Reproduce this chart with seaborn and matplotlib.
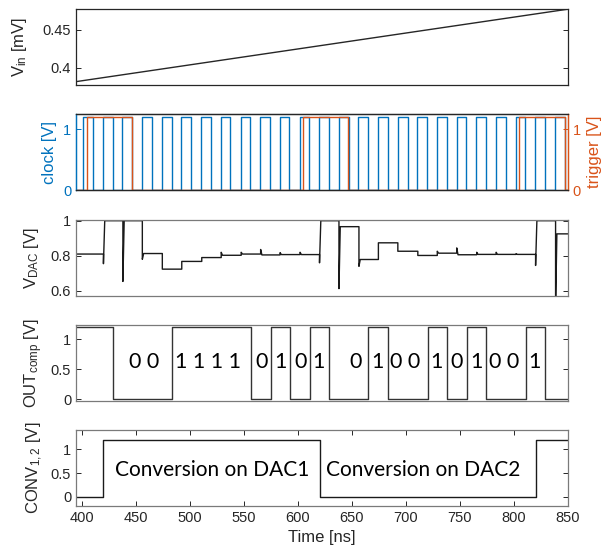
"""
SAR ADC timing diagram - five stacked panels sharing the time axis
"""

import matplotlib
matplotlib.use("Agg")
import matplotlib.pyplot as plt
import seaborn as sns
from matplotlib.ticker import FormatStrFormatter

sns.set_theme(style="white")
plt.rcParams['font.family'] = ['Liberation Sans', 'DejaVu Sans']
plt.rcParams['mathtext.fontset'] = 'custom'
plt.rcParams['mathtext.rm'] = 'Liberation Sans'
plt.rcParams['mathtext.it'] = 'Liberation Sans:italic'

# ---- values ----
t_lim = (394.6, 850)
time_ticks = [400, 450, 500, 550, 600, 650, 700, 750, 800, 850]

vin_t = [394.6, 850]
vin_mv = [0.382, 0.477]

clock_rise = [401.5, 419.5, 437.5, 456, 474, 492, 510.5, 528.5, 547, 565, 583, 601.5,
              619.5, 638, 656, 674, 692.5, 710.5, 729, 747, 765, 783.5, 801.5, 819.5, 838]
clock_width = 9.0
clock_high = 1.2

trigger_rise = [404.5, 605, 805]
trigger_fall = [446, 646.5, 847]
trigger_high = 1.2

dac_start = 0.81
dac_t = [420, 438, 456, 474.5, 492.5, 511, 529, 547.5, 565.5, 583.5, 602,
         620, 638, 656.5, 674.5, 692.5, 711, 729, 747, 765.5, 783.5, 802,
         820, 838.5]
dac_level = [1.0, 1.0, 0.813, 0.724, 0.768, 0.79, 0.803, 0.81, 0.805, 0.807, 0.807,
             1.0, 0.966, 0.779, 0.874, 0.826, 0.802, 0.815, 0.806, 0.808, 0.808, 0.808,
             1.0, 0.925]
dac_spike = [0.755, 0.654, 0.78, 0.724, 0.768, 0.79, 0.82, 0.82, 0.836, 0.818, 0.82,
             0.76, 0.613, 0.74, 0.874, 0.826, 0.802, 0.826, 0.845, 0.82, 0.82, 0.812,
             0.745, 0.5]

out_start = 1.2
out_t = [428.5, 483, 557, 575, 593, 611, 628.5, 665, 683, 720, 738, 756.5, 774, 811, 828.5]
out_level = [0, 1.2, 0, 1.2, 0, 1.2, 0, 1.2, 0, 1.2, 0, 1.2, 0, 1.2, 0]

conv_start = 0.0
conv_t = [420, 620, 820]
conv_level = [1.2, 0.0, 1.2]

bit_text = ['0 0', '1 1 1 1', '0', '1', '0', '1', '0', '1', '0 0', '1', '0', '1', '0 0', '1']
bit_t = [458, 517, 566, 584, 602.5, 619.5, 653, 674, 699, 728, 747, 765.5, 790.5, 819]

conv_text = ['Conversion on DAC1', 'Conversion on DAC2']
conv_text_t = [521, 716]

BLUE = '#0072BD'
ORANGE = '#D95319'
DARK = '#262626'
GRAY = '#7a7a7a'


def step_xy(edges, levels, start):
    """turn edge times + levels into a step trace"""
    x, y = [t_lim[0]], [start]
    prev = start
    for t, v in zip(edges, levels):
        x += [t, t]
        y += [prev, v]
        prev = v
    x.append(t_lim[1])
    y.append(prev)
    return x, y


def dac_xy():
    """step trace with the switching glitch at every edge"""
    x, y = [t_lim[0]], [dac_start]
    prev = dac_start
    for t, v, s in zip(dac_t, dac_level, dac_spike):
        x += [t, t, t + 1.2]
        y += [prev, s, v]
        prev = v
    x.append(t_lim[1])
    y.append(prev)
    return x, y


def line(ax, x, y, color, lw=1.0):
    sns.lineplot(x=x, y=y, ax=ax, estimator=None, sort=False, color=color, linewidth=lw)


def style_axis(ax, yticks, ylim, frame, bottom=False):
    ax.set_xlim(*t_lim)
    ax.set_ylim(*ylim)
    ax.set_yticks(yticks)
    ax.yaxis.set_major_formatter(FormatStrFormatter('%g'))
    for s in ax.spines.values():
        s.set_color(frame)
        s.set_linewidth(0.9)
        s.set_visible(True)
    ax.tick_params(axis='y', direction='in', length=3.5, left=True, right=True,
                   labelsize=10.5, colors=DARK, width=0.7)
    if bottom:
        ax.set_xticks(time_ticks)
        ax.tick_params(axis='x', direction='in', length=3.5, top=True, bottom=True,
                       labelsize=10.5, colors=DARK, width=0.7)
    else:
        ax.set_xticks([])
    ax.set_facecolor('white')


fig = plt.figure(figsize=(6.07, 5.53), dpi=100)
left, width = 76 / 607, 492 / 607
tops = [9, 114, 220, 325, 430]
axes = [fig.add_axes([left, 1 - (tp + 76) / 553, width, 76 / 553]) for tp in tops]
ax1, ax2, ax3, ax4, ax5 = axes

# panel 1: input ramp
line(ax1, vin_t, vin_mv, DARK)
style_axis(ax1, [0.4, 0.45], (0.3776, 0.4772), DARK)
ax1.set_ylabel(r'V$_{\mathrm{in}}$ [mV]', fontsize=12, color=DARK, labelpad=10)

# panel 2: clock + trigger
clk_edges, clk_levels = [], []
for r in clock_rise:
    clk_edges += [r, r + clock_width]
    clk_levels += [clock_high, 0.0]
x, y = step_xy(clk_edges, clk_levels, 0.0)
line(ax2, x, y, BLUE)
style_axis(ax2, [0, 1], (0, 1.25), DARK)
ax2.tick_params(axis='y', colors=BLUE, right=False)
ax2.spines['left'].set_color(BLUE)
ax2.set_ylabel('clock [V]', fontsize=12, color=BLUE)

ax2r = ax2.twinx()
trg_edges, trg_levels = [], []
for r, f in zip(trigger_rise, trigger_fall):
    trg_edges += [r, f]
    trg_levels += [trigger_high, 0.0]
x, y = step_xy(trg_edges, trg_levels, 0.0)
line(ax2r, x, y, ORANGE)
ax2r.set_xlim(*t_lim)
ax2r.set_ylim(0, 1.25)
ax2r.set_yticks([0, 1])
ax2r.yaxis.set_major_formatter(FormatStrFormatter('%g'))
ax2r.tick_params(axis='y', direction='in', length=3.5, colors=ORANGE, labelsize=10.5, width=0.7)
for name, s in ax2r.spines.items():
    s.set_visible(True)
    s.set_linewidth(0.9)
    s.set_color({'left': BLUE, 'right': ORANGE}.get(name, DARK))
ax2.spines['right'].set_color(ORANGE)
ax2r.set_ylabel('trigger [V]', fontsize=12, color=ORANGE)

# panel 3: DAC voltage
x, y = dac_xy()
line(ax3, x, y, '#1a1a1a')
style_axis(ax3, [0.6, 0.8, 1.0], (0.571, 1.004), GRAY)
ax3.set_ylabel(r'V$_{\mathrm{DAC}}$ [V]', fontsize=12, color=DARK, labelpad=7)

# panel 4: comparator output with decided bits
x, y = step_xy(out_t, out_level, out_start)
line(ax4, x, y, '#333333')
style_axis(ax4, [0, 0.5, 1], (-0.025, 1.235), GRAY)
ax4.set_ylabel(r'OUT$_{\mathrm{comp}}$ [V]', fontsize=12, color=DARK)
for txt, t in zip(bit_text, bit_t):
    ax4.text(t, 0.62, txt, ha='center', va='center', fontsize=15.5,
             family=['Lato', 'DejaVu Sans'], color='black')

# panel 5: active DAC
x, y = step_xy(conv_t, conv_level, conv_start)
line(ax5, x, y, '#1a1a1a')
style_axis(ax5, [0, 0.5, 1], (-0.19, 1.4), GRAY, bottom=True)
ax5.set_ylabel(r'CONV$_{1,2}$ [V]', fontsize=12, color=DARK)
ax5.set_xlabel('Time [ns]', fontsize=12, color=DARK)
for txt, t in zip(conv_text, conv_text_t):
    ax5.text(t, 0.57, txt, ha='center', va='center', fontsize=15,
             family=['Lato', 'DejaVu Sans'], color='black')

fig.savefig('out.png', dpi=100)
plt.close(fig)
